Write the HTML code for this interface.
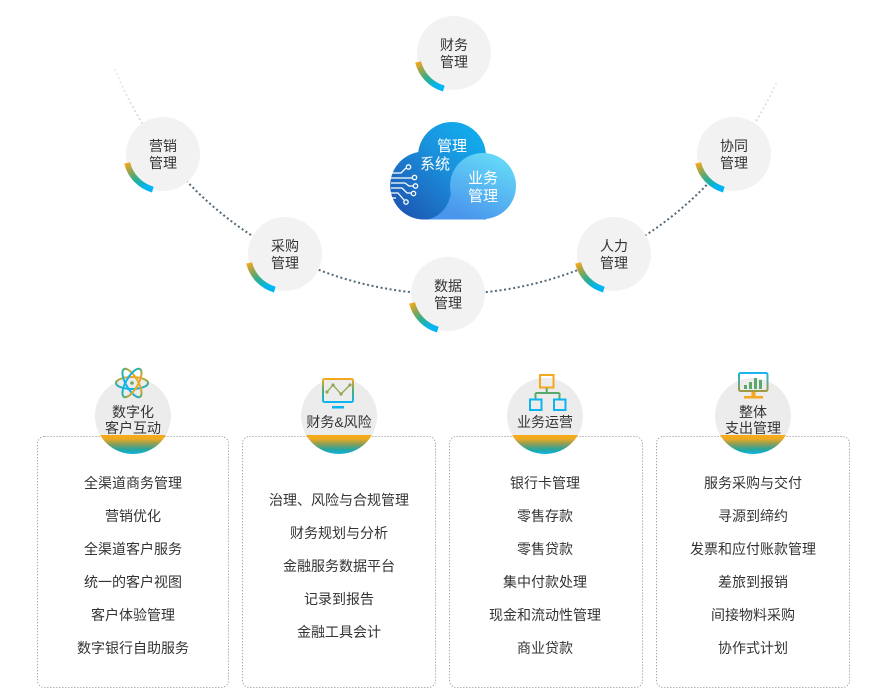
<!DOCTYPE html>
<html><head><meta charset="utf-8"><style>
html,body{margin:0;padding:0;background:#fff;}
svg{display:block;}
text{font-family:"Liberation Sans","Noto Sans CJK SC",sans-serif;}
</style></head><body>
<svg width="880" height="697" viewBox="0 0 880 697" xmlns="http://www.w3.org/2000/svg">
<defs>
<linearGradient id="arcg" gradientUnits="userSpaceOnUse" x1="115" y1="0" x2="780" y2="0">
<stop offset="0" stop-color="#eceef0"/><stop offset="0.04" stop-color="#d6dade"/><stop offset="0.075" stop-color="#52697a"/>
<stop offset="0.925" stop-color="#52697a"/><stop offset="0.96" stop-color="#d6dade"/><stop offset="1" stop-color="#eceef0"/>
</linearGradient>
<linearGradient id="ring" x1="0" y1="0" x2="0.6" y2="1">
<stop offset="0" stop-color="#f5a81e"/><stop offset="0.3" stop-color="#8fa552"/><stop offset="0.6" stop-color="#2fae8e"/><stop offset="1" stop-color="#00b5f5"/>
</linearGradient>
<linearGradient id="band" gradientUnits="userSpaceOnUse" x1="0" y1="435" x2="0" y2="455">
<stop offset="0" stop-color="#f7ab1a"/><stop offset="0.18" stop-color="#f2aa20"/><stop offset="0.45" stop-color="#8c9d57"/><stop offset="0.72" stop-color="#27a59e"/><stop offset="1" stop-color="#08b6f2"/>
</linearGradient>
<linearGradient id="icong" x1="0" y1="0" x2="0" y2="1">
<stop offset="0" stop-color="#f5a81e"/><stop offset="0.5" stop-color="#4fab78"/><stop offset="1" stop-color="#0cb4f0"/>
</linearGradient>
<linearGradient id="icong2" x1="0" y1="0" x2="0" y2="1">
<stop offset="0" stop-color="#1ab4f0"/><stop offset="1" stop-color="#a09a40"/>
</linearGradient>
<linearGradient id="cloudDark" gradientUnits="userSpaceOnUse" x1="490" y1="125" x2="400" y2="218">
<stop offset="0" stop-color="#0fb4f2"/><stop offset="0.45" stop-color="#1a92dc"/><stop offset="1" stop-color="#1d55b2"/>
</linearGradient>
<linearGradient id="cloudLight" gradientUnits="userSpaceOnUse" x1="500" y1="153" x2="470" y2="220">
<stop offset="0" stop-color="#66ddf8"/><stop offset="1" stop-color="#4a96ec"/>
</linearGradient>
<clipPath id="c1"><circle cx="133" cy="416" r="38"/></clipPath>
<clipPath id="c2"><circle cx="339" cy="416" r="38"/></clipPath>
<clipPath id="c3"><circle cx="545" cy="416" r="38"/></clipPath>
<clipPath id="c4"><circle cx="753" cy="416" r="38"/></clipPath>
</defs>

<!-- dotted arc -->
<path d="M114.7 68.9 A360 360 0 0 0 777.4 80.4" fill="none" stroke="url(#arcg)" stroke-width="2" stroke-dasharray="2 2.6"/>

<!-- top nodes -->
<g>
<circle cx="454" cy="53" r="37" fill="#f2f2f2"/>
<path d="M418.1 61.95 A37 37 0 0 0 443.8 88.6" fill="none" stroke="url(#ring)" stroke-width="6"/>
<text x="454" y="50" font-size="14" fill="#333" text-anchor="middle">财务</text>
<text x="454" y="67" font-size="14" fill="#333" text-anchor="middle">管理</text>

<circle cx="163" cy="154" r="37" fill="#f2f2f2"/>
<path d="M127.1 162.95 A37 37 0 0 0 152.8 189.6" fill="none" stroke="url(#ring)" stroke-width="6"/>
<text x="163" y="151" font-size="14" fill="#333" text-anchor="middle">营销</text>
<text x="163" y="168" font-size="14" fill="#333" text-anchor="middle">管理</text>

<circle cx="285" cy="254" r="37" fill="#f2f2f2"/>
<path d="M249.1 262.95 A37 37 0 0 0 274.8 289.6" fill="none" stroke="url(#ring)" stroke-width="6"/>
<text x="285" y="251" font-size="14" fill="#333" text-anchor="middle">采购</text>
<text x="285" y="268" font-size="14" fill="#333" text-anchor="middle">管理</text>

<circle cx="448" cy="294" r="37" fill="#f2f2f2"/>
<path d="M412.1 302.95 A37 37 0 0 0 437.8 329.6" fill="none" stroke="url(#ring)" stroke-width="6"/>
<text x="448" y="291" font-size="14" fill="#333" text-anchor="middle">数据</text>
<text x="448" y="308" font-size="14" fill="#333" text-anchor="middle">管理</text>

<circle cx="614" cy="254" r="37" fill="#f2f2f2"/>
<path d="M578.1 262.95 A37 37 0 0 0 603.8 289.6" fill="none" stroke="url(#ring)" stroke-width="6"/>
<text x="614" y="251" font-size="14" fill="#333" text-anchor="middle">人力</text>
<text x="614" y="268" font-size="14" fill="#333" text-anchor="middle">管理</text>

<circle cx="734" cy="154" r="37" fill="#f2f2f2"/>
<path d="M698.1 162.95 A37 37 0 0 0 723.8 189.6" fill="none" stroke="url(#ring)" stroke-width="6"/>
<text x="734" y="151" font-size="14" fill="#333" text-anchor="middle">协同</text>
<text x="734" y="168" font-size="14" fill="#333" text-anchor="middle">管理</text>
</g>

<!-- cloud -->
<g>
<path fill="url(#cloudDark)" d="M424 219.5 A34 34 0 0 1 420.5 151.7 A34 34 0 0 1 486 156 L486 219.5 Z"/>
<circle cx="424" cy="186" r="33.5" fill="url(#cloudDark)"/>
<circle cx="452" cy="156" r="34" fill="url(#cloudDark)"/>
<rect x="424" y="170" width="60" height="49.5" fill="url(#cloudDark)"/>
<g fill="url(#cloudLight)">
<circle cx="483" cy="186" r="33"/>
<path d="M452 182 C452 204 442 216 428 219.5 L483 219.5 L483 182 Z"/>
</g>
<text x="452" y="151" font-size="15" fill="#fff" text-anchor="middle">管理</text>
<text x="435" y="169" font-size="15" fill="#fff" text-anchor="middle">系统</text>
<text x="483" y="183" font-size="15" fill="#fff" text-anchor="middle">业务</text>
<text x="483" y="201" font-size="15" fill="#fff" text-anchor="middle">管理</text>
<!-- circuit icon -->
<g stroke="#fff" stroke-width="1.3" fill="none">
<path d="M391 173 H401 L406 168"/><circle cx="408.5" cy="167" r="2.2"/>
<path d="M391 178 H412"/><circle cx="414.5" cy="177.5" r="2.2"/>
<path d="M391 183 H405 L409 186 H413"/><circle cx="415.5" cy="186" r="2.2"/>
<path d="M391 188 H402 L407 193 H411"/><circle cx="413.5" cy="193.5" r="2.2"/>
<path d="M391 193 H398 L404 200"/><circle cx="406" cy="202" r="2.2"/>
<path d="M391 198 H396"/>
</g>
</g>

<!-- boxes -->
<g fill="none" stroke="#8a8a8a" stroke-width="1" stroke-dasharray="1 2">
<rect x="37.5" y="436.5" width="191" height="251" rx="7"/>
<rect x="242.5" y="436.5" width="193" height="251" rx="7"/>
<rect x="449.5" y="436.5" width="193" height="251" rx="7"/>
<rect x="656.5" y="436.5" width="193" height="251" rx="7"/>
</g>

<!-- bottom circles -->
<g>
<circle cx="133" cy="416" r="38" fill="#ececec"/>
<rect x="90" y="435" width="90" height="22" fill="url(#band)" clip-path="url(#c1)"/>
<circle cx="339" cy="416" r="38" fill="#ececec"/>
<rect x="296" y="435" width="90" height="22" fill="url(#band)" clip-path="url(#c2)"/>
<circle cx="545" cy="416" r="38" fill="#ececec"/>
<rect x="502" y="435" width="90" height="22" fill="url(#band)" clip-path="url(#c3)"/>
<circle cx="753" cy="416" r="38" fill="#ececec"/>
<rect x="710" y="435" width="90" height="22" fill="url(#band)" clip-path="url(#c4)"/>
</g>

<!-- icons -->
<g fill="none" stroke="url(#icong)" stroke-width="2">
<g transform="translate(132 383)">
<ellipse cx="0" cy="0" rx="16" ry="6"/>
<ellipse cx="0" cy="0" rx="16" ry="6" transform="rotate(60)"/>
<ellipse cx="0" cy="0" rx="16" ry="6" transform="rotate(120)"/>
</g>
</g>
<circle cx="132" cy="383" r="1.8" fill="#6aa860"/>
<rect x="323" y="379" width="30" height="23" rx="1.5" fill="none" stroke="url(#icong)" stroke-width="2"/>
<polyline points="327,392 333,385 341,394 350,385" fill="none" stroke="#8fa552" stroke-width="1.3"/>
<g fill="#8fa552"><circle cx="327" cy="392" r="1.6"/><circle cx="333" cy="385" r="1.6"/><circle cx="341" cy="394" r="1.6"/><circle cx="350" cy="385" r="1.6"/></g>
<rect x="332" y="406" width="12" height="2.5" fill="#0cb4f0"/>
<rect x="540" y="375" width="13.5" height="12.5" fill="none" stroke="#f5a81e" stroke-width="2"/>
<path d="M546.7 388 V393 M535.5 393 H559.5 M535.5 393 V399 M559.5 393 V399" fill="none" stroke="#5aa96a" stroke-width="2"/>
<rect x="530" y="399.5" width="11.5" height="10.5" fill="none" stroke="#0cb4f0" stroke-width="2"/>
<rect x="554" y="399.5" width="11.5" height="10.5" fill="none" stroke="#0cb4f0" stroke-width="2"/>
<rect x="739" y="373" width="28.5" height="18" rx="1.5" fill="none" stroke="url(#icong2)" stroke-width="2"/>
<g fill="#5aa96a"><rect x="744" y="385" width="3" height="4"/><rect x="749" y="382" width="3" height="7"/><rect x="754" y="378" width="3" height="11"/><rect x="759" y="380" width="3" height="9"/></g>
<rect x="751.5" y="392" width="4" height="4" fill="#f5a81e"/>
<rect x="744" y="396" width="19" height="2.5" fill="#f5a81e"/>

<g font-size="14" fill="#333" text-anchor="middle">
<text x="133" y="417">数字化</text>
<text x="133" y="433">客户互动</text>
<text x="339" y="427">财务&amp;风险</text>
<text x="545" y="427">业务运营</text>
<text x="753" y="417">整体</text>
<text x="753" y="433">支出管理</text>
</g>

<g font-size="14" fill="#333" text-anchor="middle">
<text x="133" y="488">全渠道商务管理</text>
<text x="133" y="521">营销优化</text>
<text x="133" y="554">全渠道客户服务</text>
<text x="133" y="587">统一的客户视图</text>
<text x="133" y="620">客户体验管理</text>
<text x="133" y="653">数字银行自助服务</text>

<text x="339" y="505">治理、风险与合规管理</text>
<text x="339" y="538">财务规划与分析</text>
<text x="339" y="571">金融服务数据平台</text>
<text x="339" y="604">记录到报告</text>
<text x="339" y="637">金融工具会计</text>

<text x="545" y="488">银行卡管理</text>
<text x="545" y="521">零售存款</text>
<text x="545" y="554">零售贷款</text>
<text x="545" y="587">集中付款处理</text>
<text x="545" y="620">现金和流动性管理</text>
<text x="545" y="653">商业贷款</text>

<text x="753" y="488">服务采购与交付</text>
<text x="753" y="521">寻源到缔约</text>
<text x="753" y="554">发票和应付账款管理</text>
<text x="753" y="587">差旅到报销</text>
<text x="753" y="620">间接物料采购</text>
<text x="753" y="653">协作式计划</text>
</g>
</svg>
</body></html>
